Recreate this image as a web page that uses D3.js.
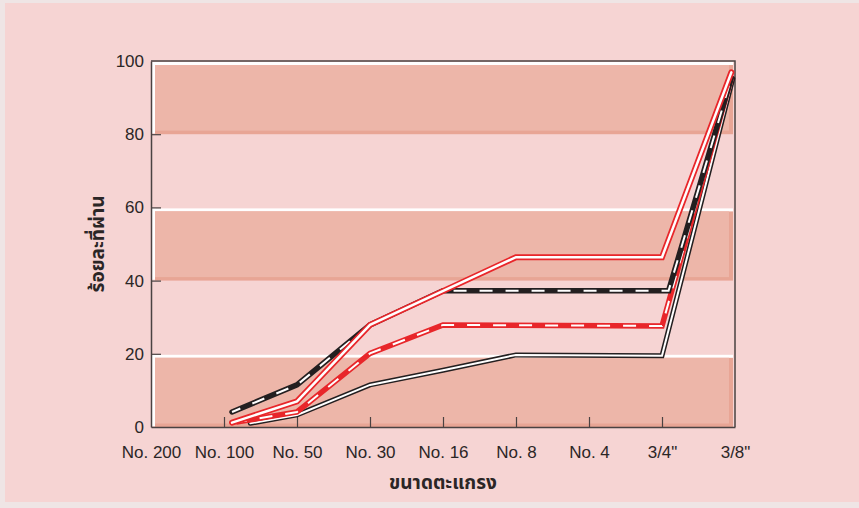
<!DOCTYPE html>
<html>
<head>
<meta charset="utf-8">
<script src="https://cdn.jsdelivr.net/npm/d3@7"></script>
<style>
  html, body { margin: 0; padding: 0; background: #efe5e5; }
  svg { display: block; }
</style>
</head>
<body>
<svg id="chart" width="859" height="508"></svg>
<script>
// ---- data ----
const categories = ["No. 200", "No. 100", "No. 50", "No. 30", "No. 16", "No. 8", "No. 4", "3/4\"", "3/8\""];
const yTicks = [0, 20, 40, 60, 80, 100];
const bandLows = [0, 40, 80];
const xTitle = "ขนาดตะแกรง";
const yTitle = "ร้อยละที่ผ่าน";

// positions are category indexes (0 = No. 200 ... 8 = 3/8")
const redUpperX = [1.11, 2, 3, 5, 7, 7.95];
const redUpperY = [1.2, 7, 27.9, 46.4, 46.4, 96.9];
const blackDashX = [1.11, 2, 3, 4, 7.09, 7.95];
const blackDashY = [4.1, 11.5, 27.9, 37.2, 37.2, 95.4];
const redDashX = [1.19, 2, 3, 4, 7, 7.95];
const redDashY = [1.4, 4.1, 20.1, 27.9, 27.6, 95.4];
const blackSolidX = [1.36, 2, 3, 4, 5, 7, 7.97];
const blackSolidY = [1.0, 3.3, 11.5, 15.5, 19.7, 19.5, 95.2];

// ---- layout ----
const W = 859, H = 508;
const L = 151, R = 735, T = 61, B = 427;
const svg = d3.select("#chart");

const x = d3.scaleLinear().domain([0, categories.length - 1]).range([L, R]);
const y = d3.scaleLinear().domain([0, 100]).range([B, T]);

// background
svg.append("rect").attr("x", 5).attr("y", 3).attr("width", W - 5).attr("height", H - 9).attr("fill", "#f6d4d3");

// bands
const bandG = svg.append("g");
const bandRight = R - 2;
bandLows.forEach(lo => {
  const hi = lo + 20;
  const yt = y(hi), yb = y(lo);
  // white top highlight
  bandG.append("rect").attr("x", L + 1).attr("y", yt + 1).attr("width", bandRight - L - 1).attr("height", 4).attr("fill", "#ffffff");
  // white left highlight
  bandG.append("rect").attr("x", L + 1).attr("y", yt + 1).attr("width", 4).attr("height", yb - yt - 2).attr("fill", "#ffffff");
  // darker shadow edge (bottom/right)
  bandG.append("rect").attr("x", L + 4).attr("y", yt + 4).attr("width", bandRight - L - 4).attr("height", yb - yt - 4).attr("fill", "#e8a595");
  // main band
  bandG.append("rect").attr("x", L + 4).attr("y", yt + 4).attr("width", bandRight - L - 8).attr("height", yb - yt - 7.5).attr("fill", "#edb6a9");
});

// axes
const axisColor = "#4a4242";
const xAxis = d3.axisBottom(x)
  .tickValues(d3.range(categories.length))
  .tickFormat(i => categories[i])
  .tickSizeInner(-10).tickSizeOuter(0).tickPadding(19);
const yAxis = d3.axisLeft(y)
  .tickValues(yTicks)
  .tickSizeInner(-10).tickSizeOuter(0).tickPadding(7);

const fontTicks = "'Liberation Sans Narrow', 'Liberation Sans', Arial, sans-serif";

const gx = svg.append("g").attr("transform", `translate(0,${B})`).call(xAxis);
const gy = svg.append("g").attr("transform", `translate(${L},0)`).call(yAxis);
[gx, gy].forEach(g => {
  g.select(".domain").attr("stroke", axisColor).attr("stroke-width", 1.5);
  g.selectAll(".tick line").attr("stroke", axisColor).attr("stroke-width", 1.2);
  g.selectAll(".tick text").attr("fill", "#2b2626").style("font-family", fontTicks).style("font-size", "17px");
});
gx.selectAll(".tick").filter(d => d === 0 || d === categories.length - 1).select("line").remove();
gy.selectAll(".tick").filter(d => d === 0 || d === 100).select("line").remove();

// frame top/right
svg.append("path")
  .attr("d", `M${L},${T}H${R}V${B}`)
  .attr("fill", "none").attr("stroke", axisColor).attr("stroke-width", 1.5);

// lines
const line = d3.line().x(d => x(d[0])).y(d => y(d[1]));
const zip = (xs, ys) => xs.map((v, i) => [v, ys[i]]);
const lg = svg.append("g").attr("fill", "none").attr("stroke-linecap", "round").attr("stroke-linejoin", "miter");

function doubleLine(data, color, outer, inner) {
  lg.append("path").attr("d", line(data)).attr("stroke", color).attr("stroke-width", outer);
  lg.append("path").attr("d", line(data)).attr("stroke", "#ffffff").attr("stroke-width", inner);
}
function dashedLine(data, color) {
  lg.append("path").attr("d", line(data)).attr("stroke", color).attr("stroke-width", 5.5);
  lg.append("path").attr("d", line(data)).attr("stroke", "#ffffff").attr("stroke-width", 2)
    .attr("stroke-linecap", "butt").attr("stroke-dasharray", "13,13").attr("stroke-dashoffset", 4);
}

doubleLine(zip(blackSolidX, blackSolidY), "#231f20", 5, 2);
dashedLine(zip(redDashX, redDashY), "#e8262a");
dashedLine(zip(blackDashX, blackDashY), "#231f20");
doubleLine(zip(redUpperX, redUpperY), "#e8262a", 6, 2.5);

// titles
svg.append("text")
  .attr("x", (L + R) / 2).attr("y", 489)
  .attr("text-anchor", "middle")
  .style("font-family", "'Noto Sans Thai', 'Noto Sans', sans-serif")
  .style("font-weight", "bold").style("font-size", "19px").attr("fill", "#2b2626")
  .text(xTitle);

svg.append("text")
  .attr("transform", `translate(104,${(T + B) / 2}) rotate(-90)`)
  .attr("text-anchor", "middle")
  .style("font-family", "'Noto Sans Thai', 'Noto Sans', sans-serif")
  .style("font-weight", "bold").style("font-size", "19px").attr("fill", "#2b2626")
  .text(yTitle);
</script>
</body>
</html>
